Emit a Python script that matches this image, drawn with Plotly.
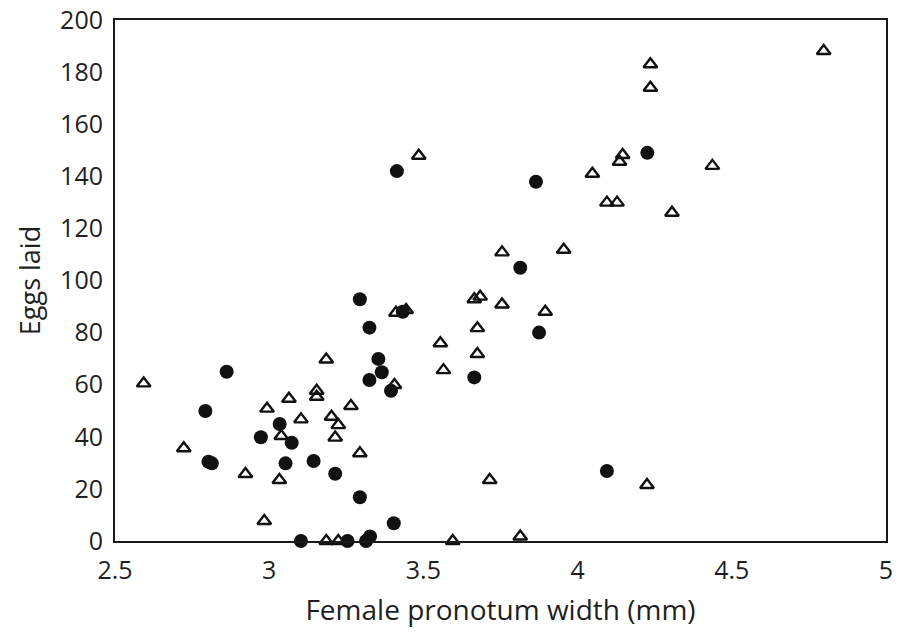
import plotly.graph_objects as go

# Open triangles
tri_x = [2.593, 2.723, 2.923, 2.984, 2.993, 3.033, 3.039, 3.064, 3.103, 3.154, 3.154,
         3.185, 3.185, 3.202, 3.214, 3.224, 3.224, 3.265, 3.294, 3.406, 3.411, 3.444,
         3.485, 3.555, 3.565, 3.595, 3.665, 3.684, 3.675, 3.675, 3.715, 3.755, 3.755,
         3.814, 3.895, 3.955, 4.048, 4.095, 4.128, 4.136, 4.146, 4.236, 4.236, 4.225,
         4.306, 4.437, 4.798]
tri_y = [60.5, 35.6, 25.7, 7.7, 50.8, 23.4, 40.3, 54.6, 46.7, 57.7, 55.4,
         69.7, 0, 47.7, 39.7, 44.5, 0, 51.8, 33.7, 59.9, 87.6, 88.7,
         147.9, 75.9, 65.6, 0, 92.8, 93.8, 81.7, 71.8, 23.4, 110.8, 90.8,
         1.7, 88, 111.8, 141, 129.9, 129.9, 145.6, 148.2, 183, 174, 21.5,
         126, 144, 188.1]

# Filled circles
cir_x = [2.793, 2.803, 2.814, 2.862, 2.973, 3.034, 3.053, 3.073, 3.103, 3.144,
         3.214, 3.254, 3.294, 3.294, 3.325, 3.325, 3.314, 3.327, 3.354, 3.365,
         3.395, 3.404, 3.414, 3.433, 3.665, 3.814, 3.865, 3.875, 4.095, 4.226]
cir_y = [49.9, 30.4, 29.8, 65, 39.8, 44.9, 29.8, 37.7, 0, 30.7,
         25.8, 0, 92.8, 16.8, 81.9, 61.8, 0, 1.7, 69.9, 64.8,
         57.7, 6.8, 142, 88, 62.8, 104.9, 137.9, 80, 26.9, 149]

x_ticks = [2.5, 3, 3.5, 4, 4.5, 5]
x_tick_text = ["2.5", "3", "3.5", "4", "4.5", "5"]
y_ticks = [0, 20, 40, 60, 80, 100, 120, 140, 160, 180, 200]

fig = go.Figure()
fig.add_trace(go.Scatter(
    x=tri_x, y=tri_y, mode="markers",
    marker=dict(symbol="triangle-up-open", size=12, color="#111111",
                line=dict(width=2.4, color="#111111")),
    showlegend=False, cliponaxis=False))
fig.add_trace(go.Scatter(
    x=cir_x, y=cir_y, mode="markers",
    marker=dict(symbol="circle", size=14, color="#111111", line=dict(width=0)),
    showlegend=False, cliponaxis=False))

font_family = "Open Sans, Liberation Sans, sans-serif"
fig.update_layout(
    width=906, height=634,
    margin=dict(l=115, r=20, t=20, b=93, autoexpand=False),
    paper_bgcolor="white", plot_bgcolor="white",
    font=dict(family=font_family, color="#1f1f1f", size=25),
    xaxis=dict(range=[2.5, 5], tickvals=x_ticks, ticktext=x_tick_text,
               showgrid=False, zeroline=False, showline=True, mirror=True,
               linecolor="#1a1a1a", linewidth=2, ticks="", automargin=False,
               ticklabelstandoff=6, ticklabeloverflow="allow",
               tickfont=dict(size=25),
               title=dict(text="Female pronotum width (mm)", font=dict(size=28), standoff=15)),
    yaxis=dict(range=[0, 200], tickvals=y_ticks,
               showgrid=False, zeroline=False, showline=True, mirror=True,
               linecolor="#1a1a1a", linewidth=2, ticks="", automargin=False,
               ticklabelstandoff=5, ticklabeloverflow="allow",
               tickfont=dict(size=25),
               title=dict(text="Eggs laid", font=dict(size=27), standoff=12)),
)

fig.write_html("out.html", config={"displayModeBar": False},
               post_script="document.body.style.margin='0';document.body.style.overflow='hidden';")
